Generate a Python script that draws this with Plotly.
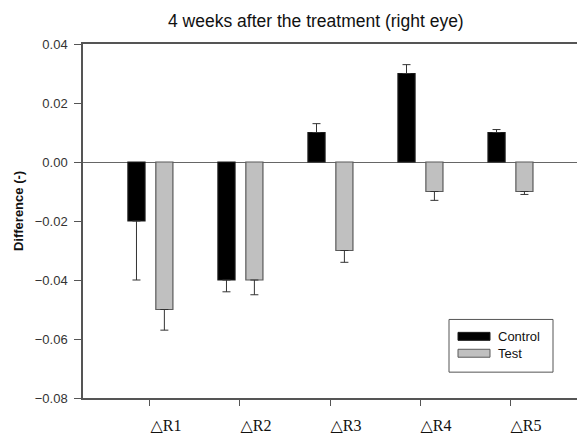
import plotly.graph_objects as go

categories = ["△R1", "△R2", "△R3", "△R4", "△R5"]
control = [-0.02, -0.04, 0.01, 0.03, 0.01]
control_err = [0.02, 0.004, 0.003, 0.003, 0.001]
test = [-0.05, -0.04, -0.03, -0.01, -0.01]
test_err = [0.007, 0.005, 0.004, 0.003, 0.001]
y_ticks = [0.04, 0.02, 0.00, -0.02, -0.04, -0.06, -0.08]

W, H = 577, 434
L, R, T, B = 83, 0, 44, 34
x_idx = list(range(len(categories)))


def one_sided(vals, errs):
    # error whiskers point away from zero
    up = [e if v >= 0 else 0 for v, e in zip(vals, errs)]
    down = [e if v < 0 else 0 for v, e in zip(vals, errs)]
    return up, down


fig = go.Figure()
for name, vals, errs, fill, edge, off in [
    ("Control", control, control_err, "#000000", "#1a1a1a", -0.245),
    ("Test", test, test_err, "#c0c0c0", "#5a5a5a", 0.065),
]:
    up, down = one_sided(vals, errs)
    fig.add_trace(go.Bar(
        x=x_idx, y=vals, name=name, width=0.19, offset=off,
        marker=dict(color=fill, line=dict(color=edge, width=1.2)),
        error_y=dict(type="data", symmetric=False, array=up, arrayminus=down,
                     color="#333333", thickness=1, width=4),
        showlegend=False,
    ))

fig.update_layout(
    width=W, height=H, margin=dict(l=L, r=R, t=T, b=B),
    paper_bgcolor="white", plot_bgcolor="white",
    barmode="overlay",
    font=dict(family="Arial, Liberation Sans, sans-serif", color="#333333"),
)
fig.update_xaxes(
    range=[-0.744, 4.744], tickvals=x_idx, ticktext=categories,
    ticks="outside", ticklen=6, tickcolor="#555555", tickwidth=1,
    showline=True, linecolor="#555555", linewidth=1.5, mirror=True,
    showgrid=False, zeroline=False,
    tickfont=dict(family="Times New Roman, Liberation Serif, DejaVu Serif, serif",
                  size=16, color="#111111"),
    ticklabelshift=16, ticklabelstandoff=6,
)
fig.update_yaxes(
    range=[-0.08, 0.04], tickvals=y_ticks, tickformat=".2f",
    ticks="outside", ticklen=7, tickcolor="#555555", tickwidth=1,
    showline=True, linecolor="#555555", linewidth=1.5, mirror=False,
    showgrid=False, zeroline=True, zerolinecolor="#666666", zerolinewidth=1,
    tickfont=dict(size=13, color="#333333"), ticklabelstandoff=4,
)

pw = W - L - R


def px(xp):
    return (xp - L) / pw


ph = H - T - B


def py(yp):
    return 1 - (yp - T) / ph


# title and y-axis label
fig.add_annotation(text="4 weeks after the treatment (right eye)", xref="paper", yref="paper",
                   x=px(316), y=py(21), xanchor="center", yanchor="middle", showarrow=False,
                   font=dict(size=17.5, color="#111111"))
fig.add_annotation(text="<b>Difference (-)</b>", xref="paper", yref="paper",
                   x=px(18), y=py(212), xanchor="center", yanchor="middle", showarrow=False,
                   textangle=-90, font=dict(size=13, color="#111111"))

# legend box with wide swatches
shapes = [dict(type="rect", xref="paper", yref="paper", x0=px(449), x1=px(553), y0=py(374), y1=py(321),
               line=dict(color="#555555", width=1), fillcolor="white")]
for name, yc, fill, edge in [("Control", 338, "#000000", "#1a1a1a"), ("Test", 355, "#c0c0c0", "#5a5a5a")]:
    shapes.append(dict(type="rect", xref="paper", yref="paper", x0=px(458), x1=px(490),
                       y0=py(yc + 4), y1=py(yc - 4), fillcolor=fill, line=dict(color=edge, width=1)))
    fig.add_annotation(text=name, xref="paper", yref="paper", x=px(496), y=py(yc),
                       xanchor="left", yanchor="middle", showarrow=False,
                       font=dict(size=13, color="#111111"))
fig.update_layout(shapes=shapes)

fig.write_html("out.html")
